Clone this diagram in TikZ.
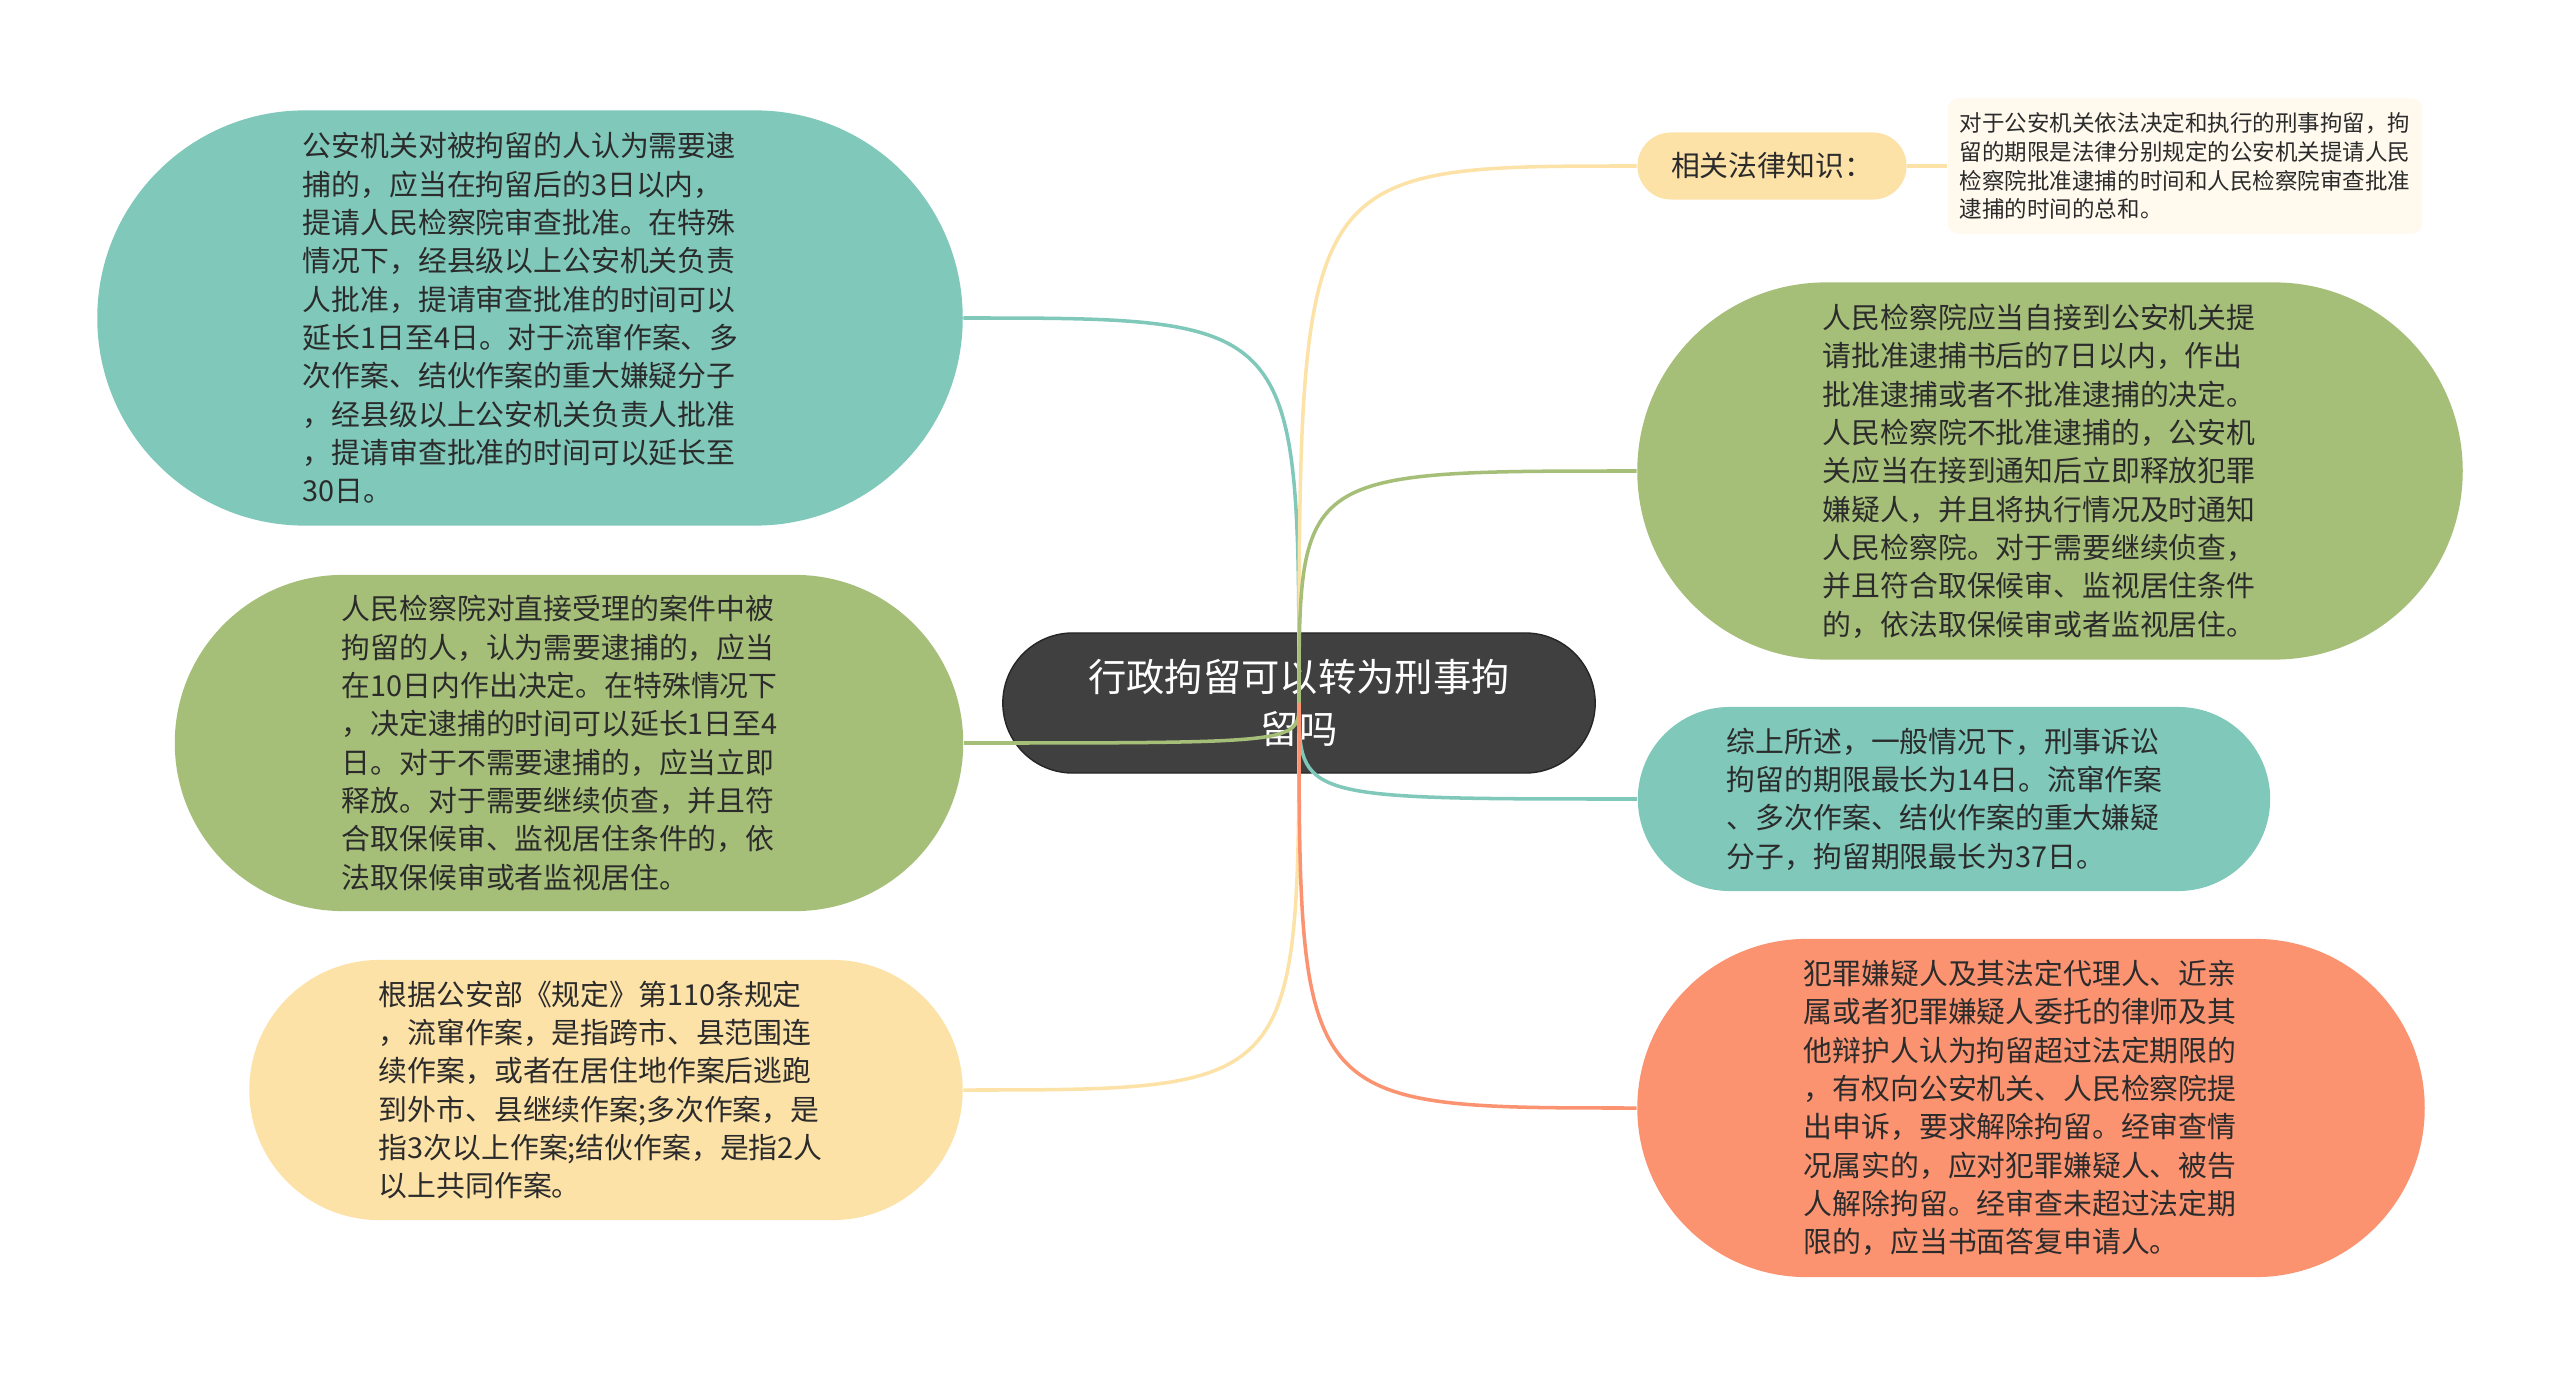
\documentclass[tikz,border=0pt]{standalone}
\usepackage{fontspec}
\setmainfont{Noto Sans CJK SC}
\definecolor{tealc}{HTML}{7FC8BA}
\definecolor{greenc}{HTML}{A6BF78}
\definecolor{yellowc}{HTML}{FDE2A8}
\definecolor{orangec}{HTML}{FB9371}
\definecolor{rootc}{HTML}{404040}
\definecolor{notec}{HTML}{FFF9EE}
\definecolor{txt}{HTML}{2B2B2B}
\begin{document}
\begin{tikzpicture}[x=0.01cm,y=-0.01cm,
  leaf/.style={inner sep=0pt, align=left, text=txt, font=\fontsize{8.2}{10.9}\selectfont, text width=4.54cm},
  wire/.style={line width=1pt}]
\fill[white] (0,0) rectangle (2560,1373);
\useasboundingbox (0,0) rectangle (2560,1373);
% left side
\node[leaf, fill=tealc, minimum width=8.65cm, minimum height=4.15cm, rounded corners=2.075cm] (arrest) at (530,318)
 {公安机关对被拘留的人认为需要逮\\捕的，应当在拘留后的3日以内，\\提请人民检察院审查批准。在特殊\\情况下，经县级以上公安机关负责\\人批准，提请审查批准的时间可以\\延长1日至4日。对于流窜作案、多\\次作案、结伙作案的重大嫌疑分子\\，经县级以上公安机关负责人批准\\，提请审查批准的时间可以延长至\\30日。};
\node[leaf, fill=greenc, minimum width=7.88cm, minimum height=3.36cm, rounded corners=1.68cm] (direct) at (569,743)
 {人民检察院对直接受理的案件中被\\拘留的人，认为需要逮捕的，应当\\在10日内作出决定。在特殊情况下\\，决定逮捕的时间可以延长1日至4\\日。对于不需要逮捕的，应当立即\\释放。对于需要继续侦查，并且符\\合取保候审、监视居住条件的，依\\法取保候审或者监视居住。};
\node[leaf, fill=yellowc, minimum width=7.13cm, minimum height=2.6cm, rounded corners=1.3cm] (rules) at (606,1090)
 {根据公安部《规定》第110条规定\\，流窜作案，是指跨市、县范围连\\续作案，或者在居住地作案后逃跑\\到外市、县继续作案;多次作案，是\\指3次以上作案;结伙作案，是指2人\\以上共同作案。};
% root
\node[fill=rootc, draw=black!85, text=white, align=center, inner sep=0pt, font=\fontsize{10.9}{14.8}\selectfont,
  minimum width=5.92cm, minimum height=1.4cm, rounded corners=0.7cm] (root) at (1299,703)
 {行政拘留可以转为刑事拘\\留吗};
% right side
\node[inner sep=0pt, text=txt, font=\fontsize{8.2}{10.9}\selectfont, fill=yellowc,
  minimum width=2.69cm, minimum height=0.67cm, rounded corners=0.335cm] (law) at (1772,166)
 {相关法律知识：};
\node[inner sep=0pt, align=left, text=txt, font=\fontsize{6.4}{8.2}\selectfont, fill=notec,
  minimum width=4.74cm, minimum height=1.35cm, rounded corners=0.1cm] (note) at (2185,166)
 {对于公安机关依法决定和执行的刑事拘留，拘\\留的期限是法律分别规定的公安机关提请人民\\检察院批准逮捕的时间和人民检察院审查批准\\逮捕的时间的总和。};
\node[leaf, fill=greenc, minimum width=8.25cm, minimum height=3.77cm, rounded corners=1.885cm] (approve) at (2050,471)
 {人民检察院应当自接到公安机关提\\请批准逮捕书后的7日以内，作出\\批准逮捕或者不批准逮捕的决定。\\人民检察院不批准逮捕的，公安机\\关应当在接到通知后立即释放犯罪\\嫌疑人，并且将执行情况及时通知\\人民检察院。对于需要继续侦查，\\并且符合取保候审、监视居住条件\\的，依法取保候审或者监视居住。};
\node[leaf, fill=tealc, minimum width=6.32cm, minimum height=1.84cm, rounded corners=0.92cm] (sum) at (1954,799)
 {综上所述，一般情况下，刑事诉讼\\拘留的期限最长为14日。流窜作案\\、多次作案、结伙作案的重大嫌疑\\分子，拘留期限最长为37日。};
\node[leaf, fill=orangec, minimum width=7.87cm, minimum height=3.38cm, rounded corners=1.69cm] (appeal) at (2031,1108)
 {犯罪嫌疑人及其法定代理人、近亲\\属或者犯罪嫌疑人委托的律师及其\\他辩护人认为拘留超过法定期限的\\，有权向公安机关、人民检察院提\\出申诉，要求解除拘留。经审查情\\况属实的，应对犯罪嫌疑人、被告\\人解除拘留。经审查未超过法定期\\限的，应当书面答复申请人。};
% connectors
\coordinate (hub) at (root.center);
\draw[wire, tealc] (hub) .. controls (hub |- arrest.east) .. (arrest.east);
\draw[wire, greenc] (hub) .. controls (hub |- direct.east) .. (direct.east);
\draw[wire, yellowc] (hub) .. controls (hub |- rules.east) .. (rules.east);
\draw[wire, yellowc] (hub) .. controls (hub |- law.west) .. (law.west);
\draw[wire, greenc] (hub) .. controls (hub |- approve.west) .. (approve.west);
\draw[wire, tealc] (hub) .. controls (hub |- sum.west) .. (sum.west);
\draw[wire, orangec] (hub) .. controls (hub |- appeal.west) .. (appeal.west);
\draw[wire, yellowc] (law.east) -- (note.west);
\end{tikzpicture}
\end{document}
